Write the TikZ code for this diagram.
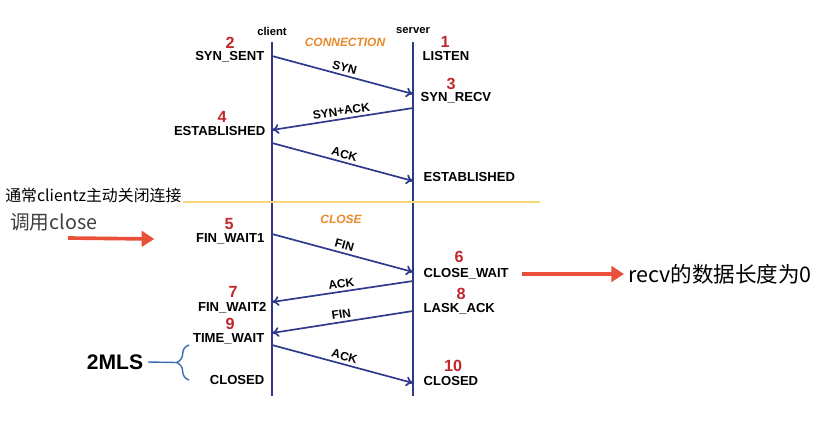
\documentclass[tikz,border=0pt]{standalone}
\usepackage{fontspec}
\setmainfont{Liberation Sans}
\newfontfamily\cjk{Noto Sans CJK SC}
\usepackage{xcolor}
\usetikzlibrary{arrows.meta}
\usetikzlibrary{positioning}
\usetikzlibrary{decorations.pathreplacing}

\definecolor{lineblue}{HTML}{2F3A8A}
\definecolor{numred}{HTML}{C0282D}
\definecolor{arrred}{HTML}{E8503A}
\definecolor{phase}{HTML}{E8892A}
\definecolor{sepyellow}{HTML}{F5D77A}
\definecolor{bracecol}{HTML}{3A6FB0}

\tikzset{
  state/.style={font=\bfseries\fontsize{9.3}{10}\selectfont, inner sep=1pt},
  num/.style={font=\bfseries\fontsize{11.5}{12}\selectfont, text=numred, inner sep=0pt},
  msg/.style={draw=lineblue, line width=1.2pt, -{To[length=5pt,width=7pt]}},
  msglabel/.style={font=\bfseries\fontsize{8.5}{10}\selectfont, sloped, above, inner sep=2pt},
  life/.style={draw=lineblue, line width=1.5pt},
  hint/.style={draw=arrred, line width=2.6pt, -{Triangle[length=9pt,width=11pt]}}
}

\begin{document}
\begin{tikzpicture}[x=0.025cm,y=-0.025cm]
  \useasboundingbox[fill=white] (0,0) rectangle (819,447);

  % lifelines
  \coordinate (ctop) at (272,42);
  \coordinate (cbot) at (272,396);
  \coordinate (stop) at (413,42);
  \coordinate (sbot) at (413,396);
  \node[font=\bfseries\fontsize{8}{9}\selectfont] (client) at (272,31) {client};
  \node[font=\bfseries\fontsize{8}{9}\selectfont] (server) at (413,31) {server};
  \path[life] (ctop) -- (cbot);
  \path[life] (stop) -- (sbot);

  % phase titles and separator
  \node[font=\bfseries\itshape\fontsize{8.5}{10}\selectfont, text=phase] (connection) at (345,42) {CONNECTION};
  \node[font=\bfseries\itshape\fontsize{8.5}{10}\selectfont, text=phase] (close) at (341,219) {CLOSE};
  \coordinate (sepl) at (183,202);
  \coordinate (sepr) at (540,202);
  \draw[sepyellow, line width=1pt] (sepl) -- (sepr);

  % states
  \begin{scope}[every node/.style={state}]
    \node[anchor=east] (synsent) at (266,57) {SYN\_SENT};
    \node[anchor=west] (listen) at (421,56) {LISTEN};
    \node[anchor=west] (synrecv) at (419,98) {SYN\_RECV};
    \node[anchor=east] (cest) at (267,131) {ESTABLISHED};
    \node[anchor=west] (sest) at (422,177) {ESTABLISHED};
    \node[anchor=east] (fw1) at (266,239) {FIN\_WAIT1};
    \node[anchor=west] (closewait) at (422,274) {CLOSE\_WAIT};
    \node[anchor=east] (fw2) at (268,308) {FIN\_WAIT2};
    \node[anchor=west] (laskack) at (422,309) {LASK\_ACK};
    \node[anchor=east] (timewait) at (266,339) {TIME\_WAIT};
    \node[anchor=east] (cclosed) at (266,380) {CLOSED};
    \node[anchor=west] (sclosed) at (422,381) {CLOSED};
  \end{scope}

  % numbers
  \begin{scope}[every node/.style={num}]
    \node (n1) at (445,42) {1};
    \node (n2) at (230,43) {2};
    \node (n3) at (451,84) {3};
    \node (n4) at (222,117) {4};
    \node (n5) at (229,224) {5};
    \node (n6) at (459,257) {6};
    \node (n7) at (233,292) {7};
    \node (n8) at (461,294) {8};
    \node (n9) at (230,324) {9};
    \node (n10) at (453,366) {10};
  \end{scope}

  % messages
  \coordinate (c1) at (272,56);  \coordinate (s1) at (413,94);
  \coordinate (s2) at (413,108); \coordinate (c2) at (272,130);
  \coordinate (c3) at (272,143); \coordinate (s3) at (413,181);
  \coordinate (c4) at (272,234); \coordinate (s4) at (413,272);
  \coordinate (s5) at (413,281); \coordinate (c5) at (272,302);
  \coordinate (s6) at (413,311); \coordinate (c6) at (272,333);
  \coordinate (c7) at (272,345); \coordinate (s7) at (413,383);
  \begin{scope}[every edge/.style={msg}]
    \path (c1) edge node[msglabel] {SYN} (s1);
    \path (s2) edge node[msglabel] {SYN+ACK} (c2);
    \path (c3) edge node[msglabel] {ACK} (s3);
    \path (c4) edge node[msglabel] {FIN} (s4);
    \path (s5) edge node[msglabel] {ACK} (c5);
    \path (s6) edge node[msglabel] {FIN} (c6);
    \path (c7) edge node[msglabel] {ACK} (s7);
  \end{scope}

  % notes
  \node[anchor=west, font=\cjk\fontsize{11.3}{12}\selectfont, inner sep=0pt] (activeclose) at (5,195) {通常clientz主动关闭连接};
  \node[anchor=west, font=\cjk\fontsize{14}{16}\selectfont, text=black!75, inner sep=0pt] (callclose) at (10,222) {调用close};
  \coordinate (callstart) at (68,238);
  \draw[hint] (callstart) -- ([xshift=-1cm]fw1.west);
  \node[anchor=west, font=\cjk\fontsize{15.3}{17}\selectfont, inner sep=0pt] (recvzero) at (628,274) {recv的数据长度为0};
  \draw[hint] ([xshift=0.3cm]closewait.east) -- ([xshift=-0.1cm]recvzero.west);

  % 2MLS brace
  \node[font=\bfseries\fontsize{15}{17}\selectfont] (mls) at (115,362) {2MLS};
  \draw[bracecol, line width=1pt, decorate, decoration={brace, amplitude=9pt}] (189,380) -- (189,345) coordinate[midway, xshift=-0.32cm] (bracetip);
  \draw[bracecol, line width=1pt] (mls.east) -- (bracetip);
\end{tikzpicture}
\end{document}
